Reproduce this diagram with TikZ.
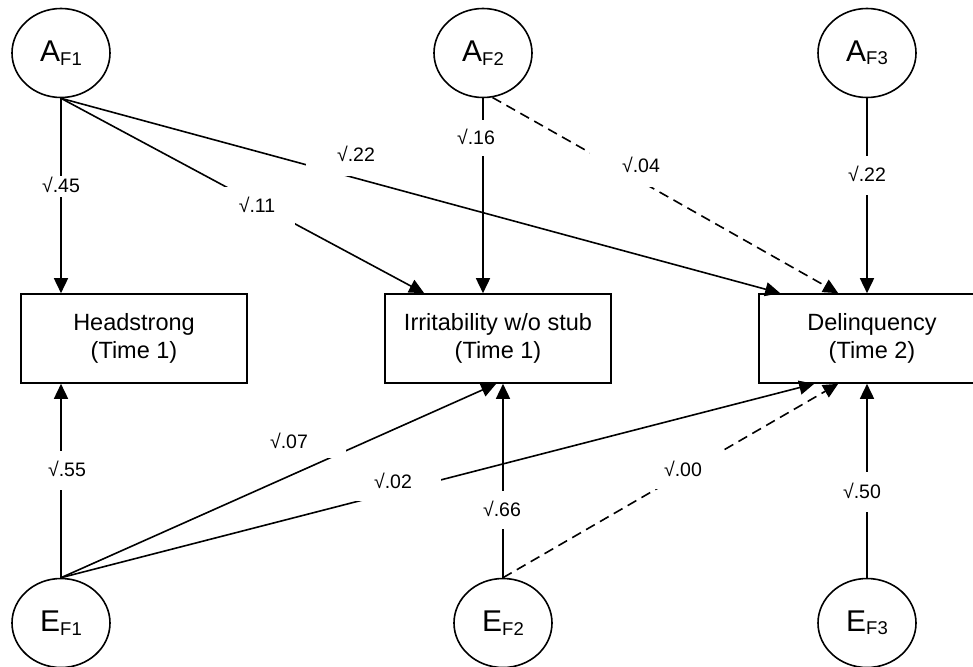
\documentclass[tikz,border=0pt]{standalone}
\usepackage{fontspec}
\setmainfont{Liberation Sans}
\usetikzlibrary{arrows.meta,shapes.geometric}
\newcommand\latvar[2]{{\fontsize{30}{30}\selectfont #1}\raisebox{-3.5pt}{\fontsize{18.5}{18.5}\selectfont F#2}}
\begin{document}
\begin{tikzpicture}[x=1pt,y=-1pt,
    latent/.style={draw,ellipse,line width=1.6pt,minimum width=98pt,minimum height=89pt,inner sep=0pt},
    obs/.style={draw,rectangle,line width=1.6pt,minimum width=226pt,minimum height=89pt,align=center,font=\fontsize{23.5}{27.5}\selectfont},
    arr/.style={line width=1.6pt,-{Triangle[length=15pt,width=14pt]}},
    weak/.style={arr,dash pattern=on 10pt off 6pt},
    coef/.style={fill=white,text height=13.6pt,text depth=0pt,inner xsep=4pt,inner ysep=12pt,font=\fontsize{19.5}{19.5}\selectfont}]
    \useasboundingbox (0,0) rectangle (973,666);
    \node[latent] (AF1) at (61,53) {\latvar{A}{1}};
    \node[latent] (AF2) at (483,53) {\latvar{A}{2}};
    \node[latent] (AF3) at (867,53) {\latvar{A}{3}};
    \node[latent] (EF1) at (61,623) {\latvar{E}{1}};
    \node[latent] (EF2) at (503,623) {\latvar{E}{2}};
    \node[latent] (EF3) at (867,623) {\latvar{E}{3}};
    \node[obs] (head) at (134,338.5) {Headstrong\\(Time 1)};
    \node[obs] (irr) at (498,338.5) {Irritability w/o stub\\(Time 1)};
    \node[obs] (delq) at (872,338.5) {Delinquency\\(Time 2)};
    \draw[arr] (AF1.south) -- (AF1.south |- head.north);
    \draw[arr] (AF1.south) -- ([xshift=40pt]irr.north west);
    \draw[arr] (AF1.south) -- ([xshift=22pt]delq.north west);
    \draw[arr] (AF2.south) -- (AF2.south |- irr.north);
    \draw[weak] (AF2.-78) -- ([xshift=80pt]delq.north west);
    \draw[arr] (AF3.south) -- (AF3.south |- delq.north);
    \draw[arr] (EF1.north) -- (EF1.north |- head.south);
    \draw[arr] (EF1.north) -- ([xshift=112pt]irr.south west);
    \draw[arr] (EF1.north) -- ([xshift=56pt]delq.south west);
    \draw[arr] (EF2.north) -- (EF2.north |- irr.south);
    \draw[weak] (EF2.north) -- ([xshift=80pt]delq.south west);
    \draw[arr] (EF3.north) -- (EF3.north |- delq.south);
    \node[coef,inner ysep=3.7pt] (cAF1head) at (61,186) {√.45};
    \node[coef,inner xsep=31pt,inner ysep=14pt] (cAF1delq) at (356,155) {√.22};
    \node[coef,inner xsep=20pt] (cAF1irr) at (257,206) {√.11};
    \node[coef,inner ysep=11pt] (cAF2irr) at (476,138) {√.16};
    \node[coef,inner xsep=32pt,inner ysep=14pt] (cAF2delq) at (641,166) {√.04};
    \node[coef,inner ysep=12.7pt] (cAF3delq) at (867,175) {√.22};
    \node[coef,inner ysep=12.7pt] (cEF1head) at (67,470) {√.55};
    \node[coef,inner xsep=38pt,inner ysep=9pt] (cEF1irr) at (289,442) {√.07};
    \node[coef,inner xsep=29pt] (cEF1delq) at (393,482) {√.02};
    \node[coef,inner ysep=12.5pt] (cEF2irr) at (502,510) {√.66};
    \node[coef,inner xsep=20pt] (cEF2delq) at (683,470) {√.00};
    \node[coef,inner ysep=13pt] (cEF3delq) at (862,492) {√.50};
\end{tikzpicture}
\end{document}
